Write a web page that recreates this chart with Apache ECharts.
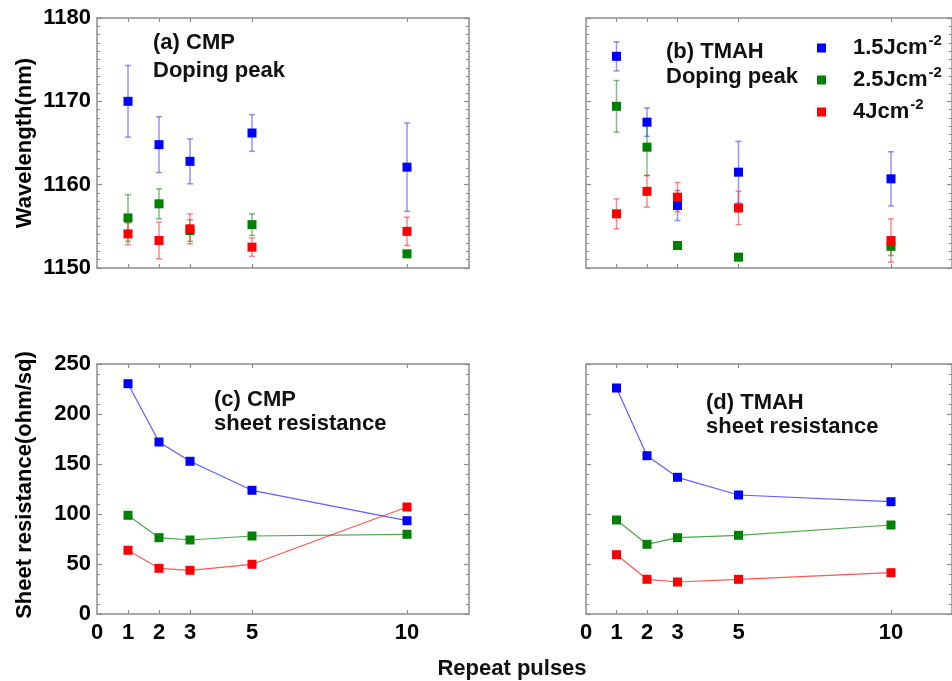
<!DOCTYPE html>
<html>
<head>
<meta charset="utf-8">
<script src="https://cdn.jsdelivr.net/npm/echarts@6/dist/echarts.min.js"></script>
<style>html,body{margin:0;padding:0;background:#fff;}#c{width:952px;height:681px;}</style>
</head>
<body>
<div id="c"></div>
<script>
// ---------- data ----------
const pulses = [1, 2, 3, 5, 10];
const xTickValues = [1, 2, 3, 5, 10];
const xLabelValues = [0, 1, 2, 3, 5, 10];
const seriesNames = ['1.5Jcm-2', '2.5Jcm-2', '4Jcm-2'];
const legendBase = ['1.5Jcm', '2.5Jcm', '4Jcm'];

// (a) CMP doping peak wavelength (nm) and error half-widths
const cmpWl15 = [1170.0, 1164.8, 1162.8, 1166.2, 1162.1];
const cmpWl15Err = [4.3, 3.35, 2.7, 2.2, 5.3];
const cmpWl25 = [1156.0, 1157.7, 1154.5, 1155.2, 1151.7];
const cmpWl25Err = [2.8, 1.8, 1.3, 1.3, 0.3];
const cmpWl4 = [1154.1, 1153.3, 1154.7, 1152.5, 1154.4];
const cmpWl4Err = [1.3, 2.2, 1.8, 1.1, 1.7];

// (b) TMAH doping peak wavelength (nm)
const tmahWl15 = [1175.4, 1167.5, 1157.5, 1161.5, 1160.7];
const tmahWl15Err = [1.75, 1.7, 1.8, 3.7, 3.25];
const tmahWl25 = [1169.4, 1164.5, 1152.7, 1151.3, 1152.6];
const tmahWl25Err = [3.1, 3.4, 0.3, 0.3, 1.1];
const tmahWl4 = [1156.5, 1159.2, 1158.5, 1157.2, 1153.3];
const tmahWl4Err = [1.8, 1.9, 1.75, 2.0, 2.6];

// (c) CMP sheet resistance (ohm/sq)
const cmpRs15 = [230.3, 172.0, 152.7, 123.7, 93.3];
const cmpRs25 = [98.7, 76.3, 74.0, 78.0, 79.7];
const cmpRs4 = [63.7, 45.7, 43.7, 49.7, 107.0];

// (d) TMAH sheet resistance (ohm/sq)
const tmahRs15 = [226.0, 158.3, 136.7, 119.0, 112.3];
const tmahRs25 = [94.0, 69.7, 76.3, 78.7, 89.0];
const tmahRs4 = [59.3, 34.7, 32.0, 34.7, 41.3];

// ---------- style ----------
const colors = ['#0000ff', '#008000', '#ff0000'];
const errColors = ['rgba(60,60,255,0.55)', 'rgba(0,128,0,0.5)', 'rgba(255,40,40,0.55)'];
const lineColors = ['rgba(40,40,255,0.75)', 'rgba(0,128,0,0.7)', 'rgba(255,30,30,0.75)'];
const gray = '#8c8c8c';
const FONT = '"Liberation Sans", Arial, sans-serif';
const lblStyle = { color: '#000', fontWeight: 'bold', fontSize: 22, fontFamily: FONT };
const plain = v => String(v);

const grids = [
  { left: 97, top: 18, width: 372, height: 250 },
  { left: 586, top: 18, width: 371, height: 250 },
  { left: 97, top: 364, width: 372, height: 250 },
  { left: 586, top: 364, width: 371, height: 250 }
];

const xAxes = [], yAxes = [];
grids.forEach((g, i) => {
  const isBottomRow = i >= 2;
  ['bottom', 'top'].forEach(pos => {
    xAxes.push({
      type: 'value', gridIndex: i, min: 0, max: 12, position: pos,
      axisLine: { show: true, onZero: false, lineStyle: { color: gray, width: 1.5 } },
      axisTick: { show: true, inside: true, length: 4, customValues: xTickValues, lineStyle: { color: gray, width: 1.2 } },
      axisLabel: { show: isBottomRow && pos === 'bottom', customValues: xLabelValues, margin: 8, formatter: plain, ...lblStyle },
      splitLine: { show: false }
    });
  });
  const isTop = i < 2;
  const showLabels = (i === 0 || i === 2);
  ['left', 'right'].forEach(pos => {
    const ax = {
      type: 'value', gridIndex: i, position: pos,
      min: isTop ? 1150 : 0, max: isTop ? 1180 : 250, interval: isTop ? 10 : 50,
      axisLine: { show: true, onZero: false, lineStyle: { color: gray, width: 1.5 } },
      axisTick: { show: true, inside: true, length: 5, lineStyle: { color: gray, width: 1.2 } },
      minorTick: { show: true, splitNumber: isTop ? 10 : 5, length: 3, lineStyle: { color: gray, width: 1 } },
      axisLabel: { show: showLabels && pos === 'left', margin: 6, formatter: plain, ...lblStyle },
      splitLine: { show: false },
      minorSplitLine: { show: false }
    };
    if (pos === 'left') {
      ax.name = i === 0 ? 'Wavelength(nm)' : (i === 2 ? 'Sheet resistance(ohm/sq)' : '');
      ax.nameLocation = 'middle';
      ax.nameGap = 61;
      ax.nameTextStyle = Object.assign({}, lblStyle, i === 2 ? { padding: [0, 0, 0, 8] } : {});
    }
    yAxes.push(ax);
  });
});

function errorSeries(gridIdx, vals, errs, k) {
  return {
    type: 'custom', xAxisIndex: gridIdx * 2, yAxisIndex: gridIdx * 2, z: 1,
    silent: true,
    data: pulses.map((p, j) => [p, vals[j], vals[j] - errs[j], vals[j] + errs[j]]),
    encode: { x: 0, y: [1, 2, 3] },
    renderItem: function (params, api) {
      const x = api.value(0);
      const top = api.coord([x, api.value(3)]);
      const bot = api.coord([x, api.value(2)]);
      const w = 3;
      const st = { stroke: errColors[k], lineWidth: 1.5 };
      return {
        type: 'group', children: [
          { type: 'line', shape: { x1: top[0], y1: top[1], x2: bot[0], y2: bot[1] }, style: st },
          { type: 'line', shape: { x1: top[0] - w, y1: top[1], x2: top[0] + w, y2: top[1] }, style: st },
          { type: 'line', shape: { x1: bot[0] - w, y1: bot[1], x2: bot[0] + w, y2: bot[1] }, style: st }
        ]
      };
    }
  };
}
function scatterSeries(gridIdx, vals, k) {
  return {
    type: 'scatter', name: seriesNames[k], xAxisIndex: gridIdx * 2, yAxisIndex: gridIdx * 2, z: 3,
    symbol: 'rect', symbolSize: 9,
    itemStyle: { color: colors[k], opacity: 1 },
    data: pulses.map((p, j) => [p, vals[j]])
  };
}
function lineSeries(gridIdx, vals, k) {
  return {
    type: 'line', name: seriesNames[k], xAxisIndex: gridIdx * 2, yAxisIndex: gridIdx * 2, z: 3,
    symbol: 'rect', symbolSize: 9, showSymbol: true,
    itemStyle: { color: colors[k], opacity: 1 },
    lineStyle: { color: lineColors[k], width: 1.2 },
    data: pulses.map((p, j) => [p, vals[j]])
  };
}

const series = [];
[[cmpWl15, cmpWl15Err], [cmpWl25, cmpWl25Err], [cmpWl4, cmpWl4Err]].forEach((d, k) => series.push(errorSeries(0, d[0], d[1], k)));
[[tmahWl15, tmahWl15Err], [tmahWl25, tmahWl25Err], [tmahWl4, tmahWl4Err]].forEach((d, k) => series.push(errorSeries(1, d[0], d[1], k)));
[cmpWl15, cmpWl25, cmpWl4].forEach((d, k) => series.push(scatterSeries(0, d, k)));
[tmahWl15, tmahWl25, tmahWl4].forEach((d, k) => series.push(scatterSeries(1, d, k)));
[cmpRs15, cmpRs25, cmpRs4].forEach((d, k) => series.push(lineSeries(2, d, k)));
[tmahRs15, tmahRs25, tmahRs4].forEach((d, k) => series.push(lineSeries(3, d, k)));

function txt(text, x, y) {
  return { type: 'text', style: { text: text, x: x, y: y, fill: '#111', font: 'bold 22px ' + FONT, verticalAlign: 'middle', align: 'left' } };
}

const option = {
  animation: false,
  backgroundColor: '#fff',
  grid: grids,
  xAxis: xAxes,
  yAxis: yAxes,
  legend: {
    orient: 'vertical', left: 812, top: 28, itemGap: 6,
    icon: 'rect', itemWidth: 9, itemHeight: 9,
    data: seriesNames,
    formatter: function (name) {
      const k = seriesNames.indexOf(name);
      return '{b|' + legendBase[k] + '}{s|-2}';
    },
    textStyle: {
      padding: [0, 0, 0, 22],
      rich: {
        b: { fontSize: 22, fontWeight: 'bold', fontFamily: FONT, color: '#111', lineHeight: 30 },
        s: { fontSize: 15, fontWeight: 'bold', fontFamily: FONT, color: '#111', lineHeight: 15, verticalAlign: 'top', padding: [0, 0, 0, 1] }
      }
    }
  },
  graphic: [
    txt('(a) CMP', 153, 43),
    txt('Doping peak', 153, 71),
    txt('(b) TMAH', 666, 52),
    txt('Doping peak', 666, 77),
    txt('(c) CMP', 214, 400),
    txt('sheet resistance', 214, 424),
    txt('(d) TMAH', 706, 403),
    txt('sheet resistance', 706, 427),
    { type: 'text', style: { text: 'Repeat pulses', x: 512, y: 669, fill: '#111', font: 'bold 22px ' + FONT, verticalAlign: 'middle', align: 'center' } }
  ],
  series: series
};

const chart = echarts.init(document.getElementById('c'), null, { renderer: 'canvas' });
chart.setOption(option);
</script>
</body>
</html>
